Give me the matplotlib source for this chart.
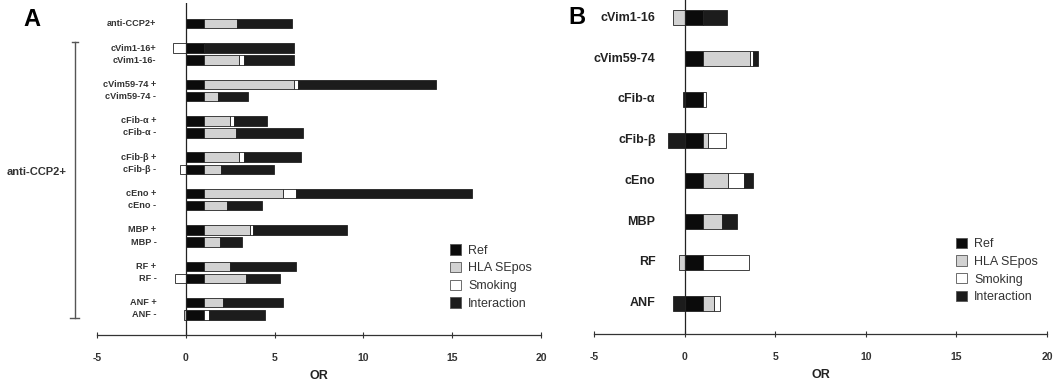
import matplotlib
matplotlib.use("Agg")
import matplotlib.pyplot as plt
from matplotlib.patches import Patch

plt.rcParams["font.family"] = ["Liberation Sans", "DejaVu Sans"]
plt.rcParams["axes.unicode_minus"] = False

# Panel A: OR contributions per antibody subgroup (Ref is always 1)
labels_a = ["anti-CCP2+", "cVim1-16+", "cVim1-16-", "cVim59-74 +", "cVim59-74 -",
            "cFib-α +", "cFib-α -", "cFib-β +", "cFib-β -", "cEno +", "cEno -",
            "MBP +", "MBP -", "RF +", "RF -", "ANF +", "ANF -"]
ref_a = [1] * 17
hla_a = [1.87, 0.0, 2.0, 5.1, 0.8, 1.5, 1.8, 2.0, 1.0, 4.5, 1.3, 2.6, 0.9, 1.5, 2.4, 1.1, -0.1]
smoke_a = [0.0, -0.73, 0.3, 0.2, 0.0, 0.2, 0.0, 0.3, -0.3, 0.7, 0.0, 0.17, 0.0, 0.0, -0.6, 0.0, 0.3]
inter_a = [3.13, 5.1, 2.8, 7.8, 1.7, 1.85, 3.8, 3.2, 2.95, 9.9, 2.0, 5.33, 1.25, 3.7, 1.9, 3.35, 3.15]

# Panel B: OR contributions per autoantibody
labels_b = ["cVim1-16", "cVim59-74", "cFib-α", "cFib-β", "cEno", "MBP", "RF", "ANF"]
ref_b = [1] * 8
hla_b = [-0.64, 2.6, 0.0, 0.3, 1.4, 1.07, -0.33, 0.6]
smoke_b = [0.0, 0.15, 0.2, 1.0, 0.9, 0.0, 2.55, 0.37]
inter_b = [1.35, 0.3, -0.1, -0.9, 0.5, 0.83, 0.0, -0.64]

names = ["Ref", "HLA SEpos", "Smoking", "Interaction"]
colors = ["#0b0b0b", "#d2d2d2", "#ffffff", "#1c1c1c"]


def stacked(ax, ypos, parts, height):
    # positive parts stack to the right, negative ones to the left of zero
    for i, y in enumerate(ypos):
        right, left = 0.0, 0.0
        for k, part in enumerate(parts):
            v = part[i]
            if v == 0:
                continue
            if v > 0:
                ax.barh(y, v, left=right, height=height, color=colors[k],
                        edgecolor="#222222", linewidth=0.6, zorder=3)
                right += v
            else:
                ax.barh(y, v, left=left, height=height, color=colors[k],
                        edgecolor="#222222", linewidth=0.6, zorder=3)
                left += v


def style_axis(ax):
    for s in ["top", "right", "left"]:
        ax.spines[s].set_visible(False)
    ax.spines["bottom"].set_linewidth(0.9)
    ax.spines["bottom"].set_color("#333333")
    ax.set_xlim(-5, 20)
    ax.set_xticks([-5, 0, 5, 10, 15, 20])
    ax.set_yticks([])
    ax.tick_params(axis="x", direction="inout", length=4, width=0.8, pad=11,
                   labelsize=7.5, colors="#333333")
    for t in ax.get_xticklabels():
        t.set_fontweight("bold")
    ax.axvline(0, color="#222222", lw=0.9, zorder=4)
    ax.set_xlabel("OR", fontsize=9, fontweight="bold", color="#222222", labelpad=5)


fig = plt.figure(figsize=(10.6, 3.86), dpi=100)

# ---- Panel A
axA = fig.add_axes([97 / 1060, 1 - 335 / 386, 444 / 1060, 332 / 386])
pos_a = [-2] + [3 * g + r for g in range(8) for r in (0, 1)]
stacked(axA, pos_a, [ref_a, hla_a, smoke_a, inter_a], 0.78)
axA.set_ylim(23.66, -3.71)
style_axis(axA)
for y, lab in zip(pos_a, labels_a):
    axA.text(-1.65, y, lab, ha="right", va="center", fontsize=6.6,
             fontweight="bold", color="#333333")
# bracket grouping the anti-CCP2+ subsets
axA.plot([-6.24, -6.24], [-0.5, 22.26], color="#555555", lw=1.0, clip_on=False)
axA.plot([-6.4, -6.05], [-0.5, -0.5], color="#555555", lw=1.0, clip_on=False)
axA.plot([-6.5, -6.0], [22.26, 22.26], color="#555555", lw=1.0, clip_on=False)
axA.text(-6.7, 10.2, "anti-CCP2+", ha="right", va="center", fontsize=8,
         fontweight="bold", color="#333333")
fig.text(32 / 1060, 1 - 20 / 386, "A", fontsize=17, fontweight="bold",
         ha="center", va="center")

# ---- Panel B
axB = fig.add_axes([594 / 1060, 1 - 334 / 386, 453 / 1060, 334 / 386])
pos_b = list(range(len(labels_b)))
stacked(axB, pos_b, [ref_b, hla_b, smoke_b, inter_b], 0.37)
axB.set_ylim(7.76, -0.44)
style_axis(axB)
for y, lab in zip(pos_b, labels_b):
    axB.text(-1.6, y, lab, ha="right", va="center", fontsize=9,
             fontweight="bold", color="#222222")
fig.text(577 / 1060, 1 - 18 / 386, "B", fontsize=17, fontweight="bold",
         ha="center", va="center")

handles = [Patch(facecolor=c, edgecolor="#555555", linewidth=0.6) for c in colors]
for ax, anchor in [(axA, (0.775, 0.30)), (axB, (0.78, 0.315))]:
    leg = ax.legend(handles, names, loc="upper left", bbox_to_anchor=anchor,
                    frameon=False, fontsize=9, handlelength=0.9, handleheight=0.9,
                    handletextpad=0.55, labelspacing=0.42, borderpad=0.2)
    for t in leg.get_texts():
        t.set_color("#333333")

fig.savefig("out.png", dpi=100)
